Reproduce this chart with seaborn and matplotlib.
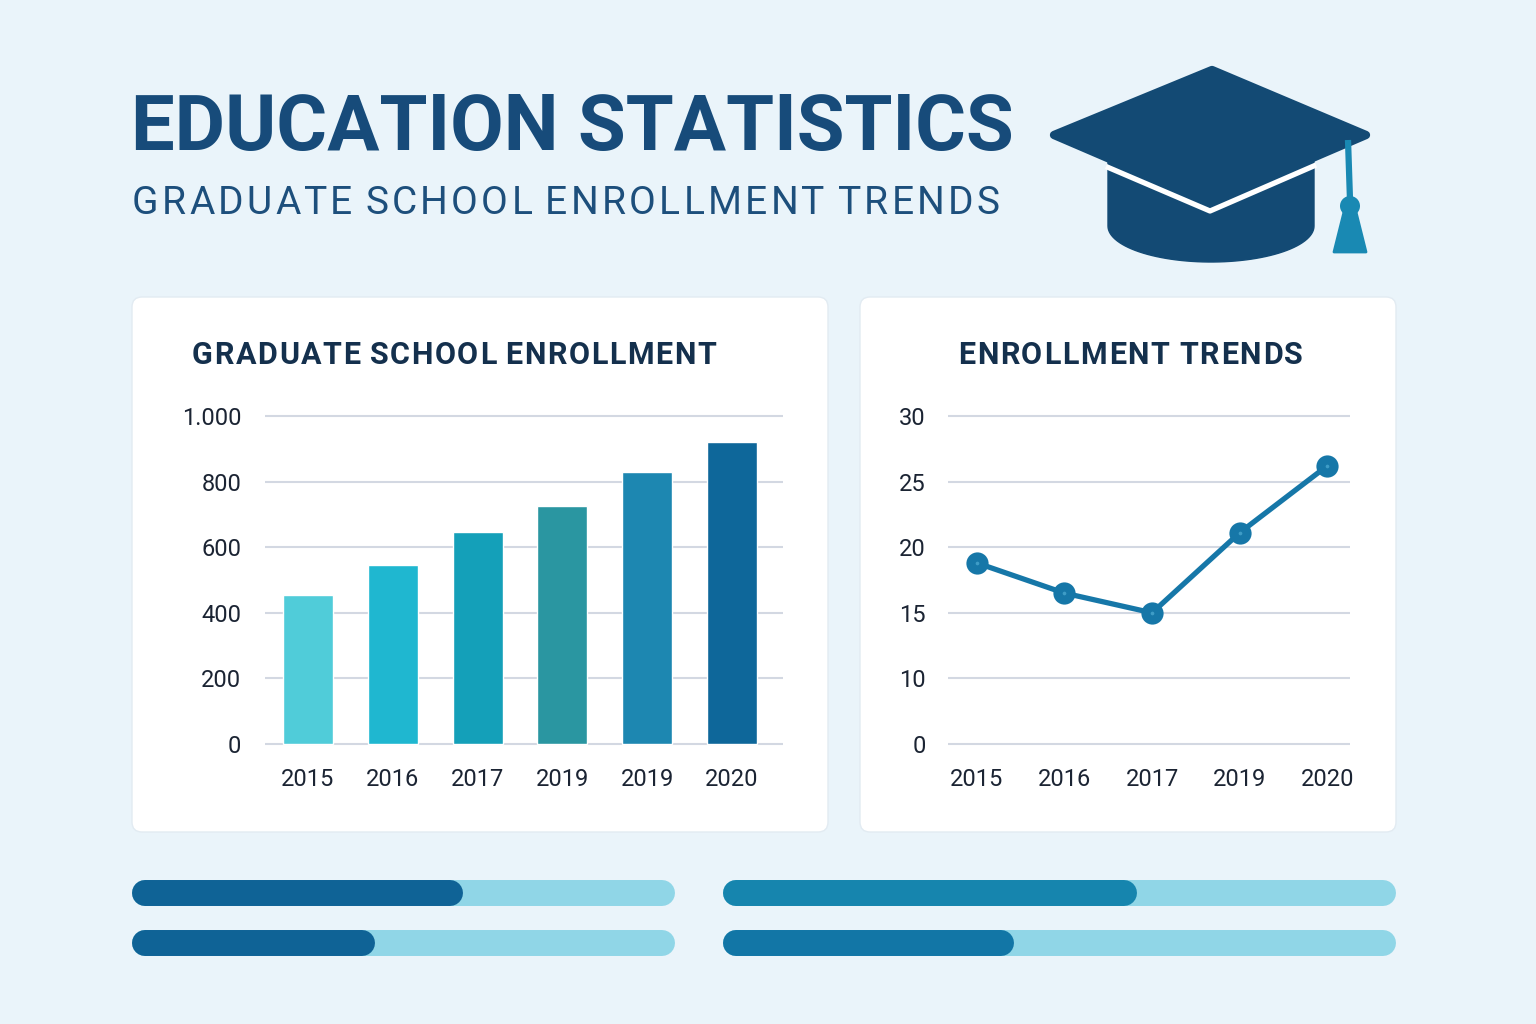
import numpy as np
import matplotlib
matplotlib.use('Agg')
import matplotlib.pyplot as plt
from matplotlib.patches import FancyBboxPatch, Polygon, Circle
import seaborn as sns

# chart values
bar_years = ['2015', '2016', '2017', '2019', '2019', '2020']
bar_values = [455, 545, 645, 725, 830, 920]
bar_colors = ['#50CCD9', '#1FB7D0', '#14A0B9', '#2A96A1', '#1D87B1', '#0E679A']
bar_yticks = [0, 200, 400, 600, 800, 1000]
bar_yticklabels = ['0', '200', '400', '600', '800', '1.000']

line_years = ['2015', '2016', '2017', '2019', '2020']
line_values = [18.8, 16.5, 15.0, 21.1, 26.2]
line_yticks = [0, 10, 15, 20, 25, 30]

progress_left = [0.59, 0.42]
progress_right = [0.60, 0.41]

W, H = 1536, 1024
BG = '#EAF4FA'
NAVY = '#134A74'
TICK = '#1B2433'
GRID = '#D3D8E2'

sns.set_style('white')
plt.rcParams['font.family'] = ['Roboto', 'DejaVu Sans']

fig = plt.figure(figsize=(W / 100, H / 100), dpi=100, facecolor=BG)
renderer = fig.canvas.get_renderer()


def box(l, t, r, b):
    return [l / W, 1 - b / H, (r - l) / W, (b - t) / H]


def text_w(s, **kw):
    t = fig.text(0, 0, s, **kw)
    w = t.get_window_extent(renderer).width
    t.remove()
    return w


def spaced_text(x, y, s, spacing, **kw):
    # x, y in pixels from top-left, y is the baseline
    gap = text_w('A A', **kw) - 2 * text_w('A', **kw)
    cx = x
    for word in s.split(' '):
        for i, ch in enumerate(word):
            off = text_w(word[:i + 1], **kw) - text_w(ch, **kw) + spacing * i
            fig.text((cx + off) / W, 1 - y / H, ch, ha='left', va='baseline', **kw)
        cx += text_w(word, **kw) + spacing * (len(word) - 1) + gap + spacing


# background layer in pixel coordinates
bg = fig.add_axes([0, 0, 1, 1], zorder=0)
bg.set_xlim(0, W)
bg.set_ylim(H, 0)
bg.axis('off')

for (l, t, r, b) in [(132, 297, 828, 832), (860, 297, 1396, 832)]:
    bg.add_patch(FancyBboxPatch((l, t), r - l, b - t,
                                boxstyle='round,pad=0,rounding_size=10',
                                fc='white', ec='#E2EBF2', lw=1))

# graduation cap
t = np.linspace(0, np.pi, 60)
arc = np.column_stack([1211 + 103 * np.cos(t), 226 + 36 * np.sin(t)])
crown = np.vstack([[(1108, 158), (1210, 203), (1314, 157)], arc])
bg.add_patch(Polygon(crown, closed=True, fc=NAVY, ec=NAVY, lw=1))
bg.plot([1106, 1210, 1316], [166.5, 211, 165], color='white', lw=3.8,
        solid_joinstyle='round', solid_capstyle='butt')
bg.add_patch(Polygon([(1054, 135), (1212, 70), (1366, 135), (1210, 202)],
                     closed=True, fc=NAVY, ec=NAVY, lw=6, joinstyle='round'))
TASSEL = '#1989B3'
bg.plot([1348, 1350], [140, 200], color=TASSEL, lw=4.5, solid_capstyle='butt')
bg.add_patch(Circle((1350, 206), 10, fc=TASSEL, ec='none'))
bg.add_patch(Polygon([(1344, 212), (1356, 212), (1366, 252), (1334, 252)],
                     closed=True, fc=TASSEL, ec=TASSEL, lw=2, joinstyle='round'))

# titles
fig.text(131 / W, 1 - 150 / H, 'EDUCATION STATISTICS', fontsize=56,
         fontweight='bold', color='#174B7A', ha='left', va='baseline')
spaced_text(132, 214, 'GRADUATE SCHOOL ENROLLMENT TRENDS', 3.3,
            fontsize=28, color='#1D4F7C')
spaced_text(192, 364, 'GRADUATE SCHOOL ENROLLMENT', 1.6,
            fontsize=22, fontweight='bold', color='#14304D')
spaced_text(958, 364, 'ENROLLMENT TRENDS', 1.7,
            fontsize=22, fontweight='bold', color='#14304D')


def style_axes(ax):
    ax.set_facecolor('none')
    sns.despine(ax=ax, left=True, bottom=True)
    ax.yaxis.grid(True, color=GRID, lw=1.5)
    ax.xaxis.grid(False)
    ax.set_axisbelow(True)
    ax.tick_params(length=0, labelsize=17, labelcolor=TICK)
    ax.tick_params(axis='y', pad=17)
    ax.tick_params(axis='x', pad=16)
    ax.set_xlabel('')
    ax.set_ylabel('')


# bar chart
ax1 = fig.add_axes(box(265, 414, 783, 746))
idx = list(range(len(bar_values)))
sns.barplot(x=idx, y=bar_values, hue=idx, palette=bar_colors, legend=False,
            width=0.59, saturation=1, ax=ax1)
ax1.set_xlim(-0.506, 5.6)
ax1.set_ylim(-6, 1006)
ax1.set_xticks(idx)
ax1.set_xticklabels(bar_years)
ax1.set_yticks(bar_yticks)
ax1.set_yticklabels(bar_yticklabels)
style_axes(ax1)

# line chart (axis compressed below 10)
ax2 = fig.add_axes(box(948, 414, 1350, 746))
lidx = list(range(len(line_values)))
sns.lineplot(x=lidx, y=line_values, color='#1677A8', lw=3.8, marker='o',
             markersize=16, markeredgewidth=0, ax=ax2)
ax2.scatter(lidx, line_values, s=7, color='#3E9CC6', zorder=5, linewidths=0)


def fwd(y):
    y = np.asarray(y, dtype=float)
    return np.where(y >= 10, y, 5 + y / 2)


def inv(v):
    v = np.asarray(v, dtype=float)
    return np.where(v >= 10, v, (v - 5) * 2)


ax2.set_yscale('function', functions=(fwd, inv))
ax2.set_ylim(-0.3, 30.15)
ax2.set_yticks(line_yticks)
ax2.set_yticklabels([str(v) for v in line_yticks])
ax2.yaxis.set_minor_locator(matplotlib.ticker.NullLocator())
ax2.set_xlim(-0.33, 4.26)
ax2.set_xticks(lidx)
ax2.set_xticklabels(line_years)
style_axes(ax2)
ax2.tick_params(axis='y', pad=16)

# progress bars
TRACK = '#90D6E7'
for (l, r), vals, fill in [((132, 675), progress_left, ['#0F6396', '#0F6396']),
                           ((723, 1396), progress_right, ['#1685AE', '#1276A6'])]:
    ax = fig.add_axes(box(l, 868, r, 968))
    inner = (r - l) - 26
    c = 13 / inner
    ax.set_xlim(-c, 1 + c)
    ax.set_ylim(1.5, -0.5)
    ax.axis('off')
    for i, v in enumerate(vals):
        ax.plot([0, 1], [i, i], color=TRACK, lw=18.7, solid_capstyle='round')
        ax.plot([0, v], [i, i], color=fill[i], lw=18.7, solid_capstyle='round')

fig.savefig('out.png', dpi=100, facecolor=BG)
